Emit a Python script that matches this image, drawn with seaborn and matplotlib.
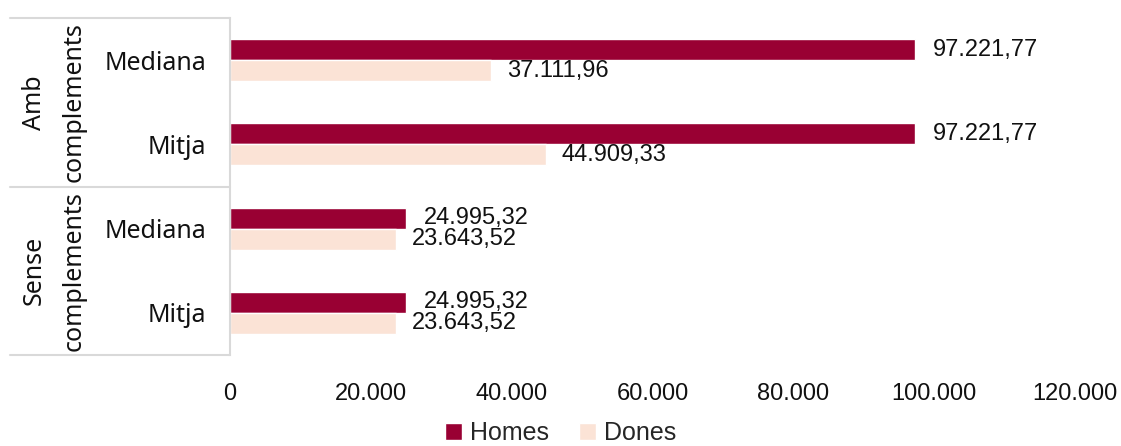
import matplotlib
matplotlib.use("Agg")
import matplotlib.pyplot as plt
import seaborn as sns
import pandas as pd
from matplotlib.patches import Patch

# dades
grups = ["Amb\ncomplements", "Sense\ncomplements"]
estadistics = ["Mediana", "Mitja", "Mediana", "Mitja"]
claus = ["amb_mediana", "amb_mitja", "sense_mediana", "sense_mitja"]
homes = [97221.77, 97221.77, 24995.32, 24995.32]
dones = [37111.96, 44909.33, 23643.52, 23643.52]
xticks = [0, 20000, 40000, 60000, 80000, 100000, 120000]

df = pd.DataFrame({
    "cat": claus * 2,
    "sexe": ["Homes"] * 4 + ["Dones"] * 4,
    "valor": homes + dones,
})

def cat_fmt(v):
    s = f"{v:,.2f}"
    return s.replace(",", "X").replace(".", ",").replace("X", ".")

def tick_fmt(v):
    return f"{v:,.0f}".replace(",", ".")

sns.set_style("white")
plt.rcParams["font.family"] = ["Liberation Sans", "DejaVu Sans"]

fig = plt.figure(figsize=(11.21, 4.46), dpi=100)
ax = fig.add_axes([230 / 1121, 1 - 355 / 446, 845 / 1121, 337 / 446])

sns.barplot(data=df, y="cat", x="valor", hue="sexe", orient="h",
            palette=["#990033", "#FBE3D6"], saturation=1, width=0.5, ax=ax,
            order=claus, hue_order=["Homes", "Dones"], legend=False)

ax.set_xlim(0, 120000)
ax.set_ylim(3.5, -0.5)
ax.set_xlabel("")
ax.set_ylabel("")

# etiquetes de valors
for cont, pad in zip(ax.containers, [13, 11]):
    ax.bar_label(cont, labels=[cat_fmt(v) for v in cont.datavalues],
                 padding=pad, fontsize=17, color="#111111")

ax.set_xticks(xticks)
ax.set_xticklabels([tick_fmt(v) for v in xticks], fontsize=17, color="#111111")
ax.set_yticks(range(4))
ax.set_yticklabels(estadistics, fontsize=18, family=["Noto Sans", "DejaVu Sans"],
                   color="#111111")
ax.tick_params(axis="x", length=0, pad=20)
ax.tick_params(axis="y", length=0, pad=17)

for s in ["top", "right", "bottom"]:
    ax.spines[s].set_visible(False)
ax.spines["left"].set_color("#d9d9d9")
ax.spines["left"].set_linewidth(1.5)

# caixa de grups a l'esquerra
tr = ax.get_yaxis_transform()
x0 = (10 - 230) / 845
for y in [-0.5, 1.5, 3.5]:
    ax.plot([x0, 0], [y, y], transform=tr, color="#d9d9d9", lw=1.5, clip_on=False)
for i, g in enumerate(grups):
    ax.text((54 - 230) / 845, 0.5 + 2 * i, g, transform=tr, rotation=90,
            ha="center", va="center", multialignment="center",
            fontsize=18, family=["Noto Sans", "DejaVu Sans"], color="#111111",
            linespacing=1.75)

# llegenda
handles = [Patch(facecolor="#990033", label="Homes"),
           Patch(facecolor="#FBE3D6", label="Dones")]
fig.legend(handles=handles, loc="center", bbox_to_anchor=(0.5, 1 - 433 / 446),
           ncol=2, frameon=False, fontsize=18, handlelength=0.7, handleheight=0.7,
           handletextpad=0.3, columnspacing=1.2, borderpad=0)

fig.savefig("out.png", dpi=100)
